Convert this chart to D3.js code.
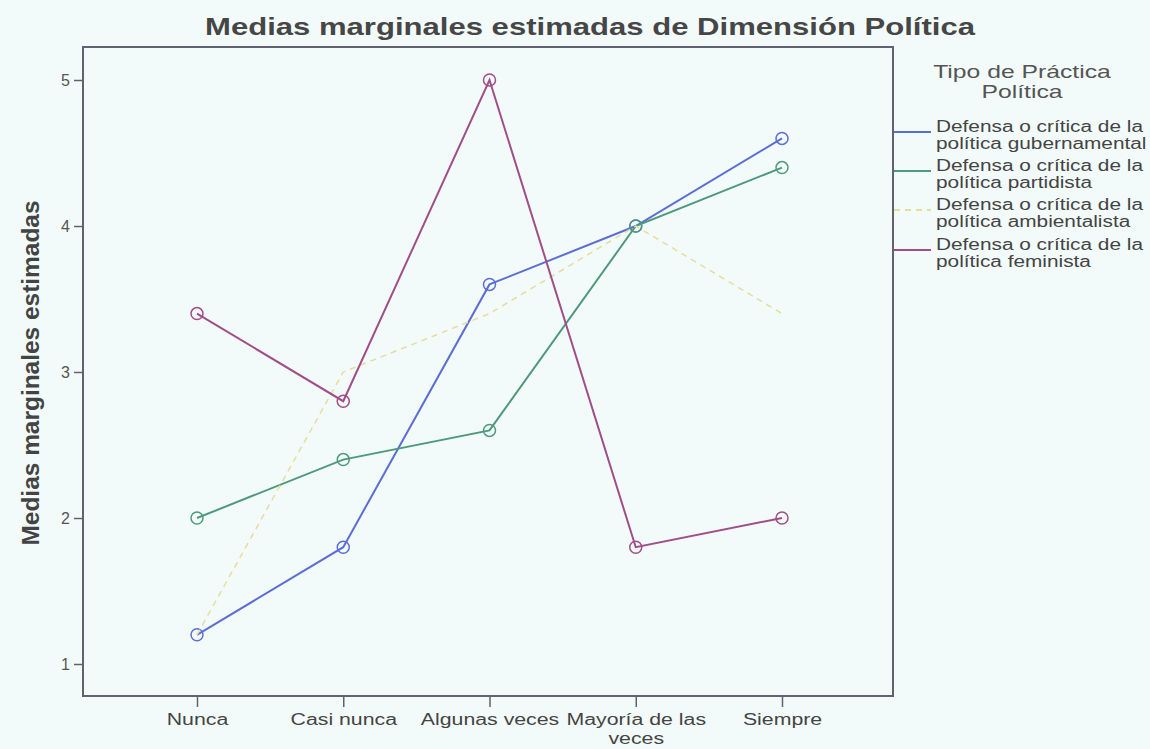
<!DOCTYPE html>
<html><head><meta charset="utf-8">
<script src="https://cdn.jsdelivr.net/npm/d3@7"></script>
<style>body{margin:0;background:#f3fbfa;} svg{display:block;}</style>
</head><body>
<svg id="c" width="1150" height="749"></svg>
<script>
const categories = ["Nunca","Casi nunca","Algunas veces","Mayoría de las veces","Siempre"];
const gubernamental = [1.2, 1.8, 3.6, 4.0, 4.6];
const partidista = [2.0, 2.4, 2.6, 4.0, 4.4];
const ambientalista = [1.2, 3.0, 3.4, 4.0, 3.4];
const feminista = [3.4, 2.8, 5.0, 1.8, 2.0];
const seriesNames = ["Defensa o crítica de la política gubernamental","Defensa o crítica de la política partidista","Defensa o crítica de la política ambientalista","Defensa o crítica de la política feminista"];
const yTicks = [1,2,3,4,5];

const series = [
  {name: seriesNames[0], values: gubernamental, color: "#5b6ed6", dash: null, markers: true, width: 2},
  {name: seriesNames[1], values: partidista, color: "#4f9a7a", dash: null, markers: true, width: 2},
  {name: seriesNames[2], values: ambientalista, color: "#e6dc9c", dash: "6,5", markers: false, width: 1.5},
  {name: seriesNames[3], values: feminista, color: "#a04e88", dash: null, markers: true, width: 2}
];

const svg = d3.select("#c");
const L = 83, R = 893, T = 47, B = 696;
const x = d3.scalePoint().domain(categories).range([197, 782]);
const y = d3.scaleLinear().domain([1,5]).range([664, 80]);
const font = "'Liberation Sans', Arial, sans-serif";

function stretch(sel, f) {
  sel.each(function(){
    const n = this;
    const w = n.getComputedTextLength();
    d3.select(n).attr("textLength", w*f).attr("lengthAdjust","spacingAndGlyphs");
  });
}

svg.append("rect").attr("width",1150).attr("height",749).attr("fill","#f3fbfa");

// title
svg.append("text").attr("x", 590).attr("y", 35).attr("text-anchor","middle")
  .attr("font-family", font).attr("font-weight","bold").attr("font-size", 24)
  .attr("fill","#464646").attr("textLength",770).attr("lengthAdjust","spacingAndGlyphs")
  .text("Medias marginales estimadas de Dimensión Política");

// frame
svg.append("rect").attr("x", L).attr("y", T).attr("width", R-L).attr("height", B-T)
  .attr("fill","none").attr("stroke","#5f6270").attr("stroke-width",2);

// y axis
const yAxis = svg.append("g").attr("transform",`translate(${L},0)`)
  .call(d3.axisLeft(y).tickValues(yTicks).tickFormat(d3.format("d")).tickSize(9).tickPadding(4));
yAxis.select(".domain").remove();
yAxis.selectAll("line").attr("stroke","#5f6270").attr("stroke-width",1.5);
yAxis.selectAll("text").attr("font-family",font).attr("font-size",16).attr("fill","#555");

// x axis
const xAxis = svg.append("g").attr("transform",`translate(0,${B})`)
  .call(d3.axisBottom(x).tickSize(11).tickPadding(7));
xAxis.select(".domain").remove();
xAxis.selectAll("line").attr("stroke","#5f6270").attr("stroke-width",1.5);
xAxis.selectAll("text").attr("font-family",font).attr("font-size",16).attr("fill","#444")
  .each(function(d){
    const t = d3.select(this);
    if (d === "Mayoría de las veces") {
      t.text(null);
      t.append("tspan").attr("x",0).attr("dy","0.71em").text("Mayoría de las");
      t.append("tspan").attr("x",0).attr("dy","1.15em").text("veces");
    }
  });
xAxis.selectAll("text").filter(function(){return this.childElementCount===0;}).call(stretch, 1.33);
xAxis.selectAll("tspan").call(stretch, 1.33);

// y label
svg.append("text").attr("transform","translate(39,373) rotate(-90)").attr("text-anchor","middle")
  .attr("font-family",font).attr("font-weight","bold").attr("font-size",23)
  .attr("fill","#444").attr("textLength",345).attr("lengthAdjust","spacingAndGlyphs")
  .text("Medias marginales estimadas");

// lines
const line = d3.line().x((d,i)=>x(categories[i])).y(d=>y(d));
series.forEach(s=>{
  svg.append("path").datum(s.values).attr("d", line).attr("fill","none")
    .attr("stroke", s.color).attr("stroke-width", s.width)
    .attr("stroke-dasharray", s.dash);
  if (s.markers) {
    svg.append("g").selectAll("circle").data(s.values).join("circle")
      .attr("cx",(d,i)=>x(categories[i])).attr("cy",d=>y(d)).attr("r",6)
      .attr("fill","none").attr("stroke",s.color).attr("stroke-width",1.5);
  }
});

// legend
const lt1 = svg.append("text").attr("x",1022).attr("y",78).attr("text-anchor","middle")
  .attr("font-family",font).attr("font-size",19).attr("fill","#555").text("Tipo de Práctica");
const lt2 = svg.append("text").attr("x",1022).attr("y",98).attr("text-anchor","middle")
  .attr("font-family",font).attr("font-size",19).attr("fill","#555").text("Política");
stretch(lt1, 1.3); stretch(lt2, 1.3);
const ly = [132, 171, 210, 250];
series.forEach((s,i)=>{
  svg.append("line").attr("x1",894).attr("x2",931).attr("y1",ly[i]).attr("y2",ly[i])
    .attr("stroke",s.color).attr("stroke-width",2).attr("stroke-dasharray", s.dash);
  const parts = s.name.split(" la ");
  const t = svg.append("text").attr("font-family",font).attr("font-size",16).attr("fill","#444");
  const a = t.append("tspan").attr("x",936).attr("y",ly[i]).text(parts[0] + " la");
  const b = t.append("tspan").attr("x",936).attr("y",ly[i]+17).text(parts[1]);
  stretch(a, 1.3); stretch(b, 1.3);
});
</script>
</body></html>
